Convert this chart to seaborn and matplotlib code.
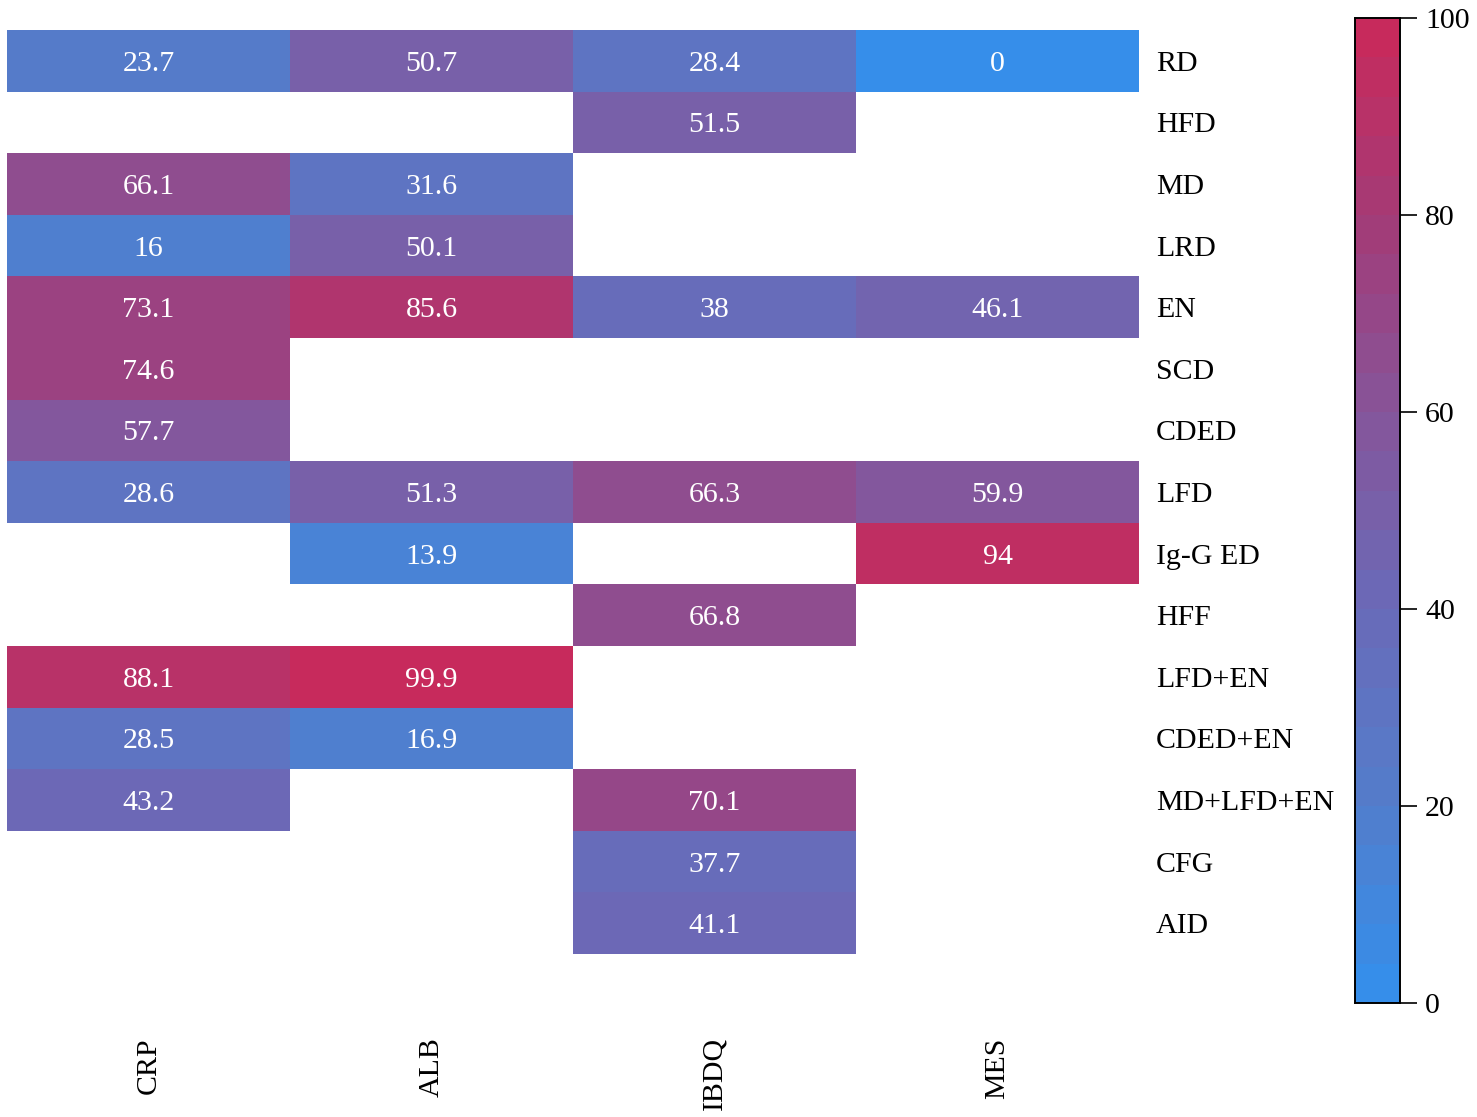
import numpy as np
import pandas as pd
import matplotlib
matplotlib.use("Agg")
import matplotlib.pyplot as plt
import seaborn as sns
from matplotlib.colors import LinearSegmentedColormap

outcomes = ["CRP", "ALB", "IBDQ", "MES"]
diets = ["RD", "HFD", "MD", "LRD", "EN", "SCD", "CDED", "LFD", "Ig-G ED",
         "HFF", "LFD+EN", "CDED+EN", "MD+LFD+EN", "CFG", "AID"]

nan = np.nan
crp = [23.7, nan, 66.1, 16, 73.1, 74.6, 57.7, 28.6, nan, nan, 88.1, 28.5, 43.2, nan, nan]
alb = [50.7, nan, 31.6, 50.1, 85.6, nan, nan, 51.3, 13.9, nan, 99.9, 16.9, nan, nan, nan]
ibdq = [28.4, 51.5, nan, nan, 38, nan, nan, 66.3, nan, 66.8, nan, nan, 70.1, 37.7, 41.1]
mes = [0, nan, nan, nan, 46.1, nan, nan, 59.9, 94, nan, nan, nan, nan, nan, nan]

df = pd.DataFrame({"CRP": crp, "ALB": alb, "IBDQ": ibdq, "MES": mes}, index=diets)

cmap = LinearSegmentedColormap.from_list(
    "bluered",
    [(0.0, "#368EEA"), (0.2, "#547CCA"), (0.4, "#6A6AB8"),
     (0.6, "#85559A"), (0.8, "#A23C78"), (1.0, "#C72A5C")],
    N=25,
)

plt.rcParams["font.family"] = ["Liberation Serif", "DejaVu Serif"]

fig = plt.figure(figsize=(14.77, 11.17), dpi=100)
ax = fig.add_axes([7 / 1477, 1 - 954 / 1117, 1132 / 1477, 924 / 1117])
cax = fig.add_axes([1355 / 1477, 1 - 1003 / 1117, 45 / 1477, 985 / 1117])

sns.heatmap(df, ax=ax, cbar_ax=cax, cmap=cmap, vmin=0, vmax=100,
            annot=True, fmt="g",
            annot_kws={"size": 21.5, "color": "white", "va": "center_baseline"})

ax.yaxis.tick_right()
ax.tick_params(axis="y", length=0, pad=12, labelsize=21.5, labelrotation=0)
for t in ax.get_yticklabels():
    t.set_ha("left")
ax.tick_params(axis="x", length=0, pad=60, labelsize=21.5, labelrotation=90)
for t in ax.get_xticklabels():
    t.set_va("top")
ax.set_xlabel("")
ax.set_ylabel("")

cax.set_yticks([0, 20, 40, 60, 80, 100])
cax.tick_params(length=12, width=1.2, labelsize=21.5, pad=6)
for s in cax.spines.values():
    s.set_visible(True)
    s.set_linewidth(1.2)

fig.savefig("out.png", dpi=100)
